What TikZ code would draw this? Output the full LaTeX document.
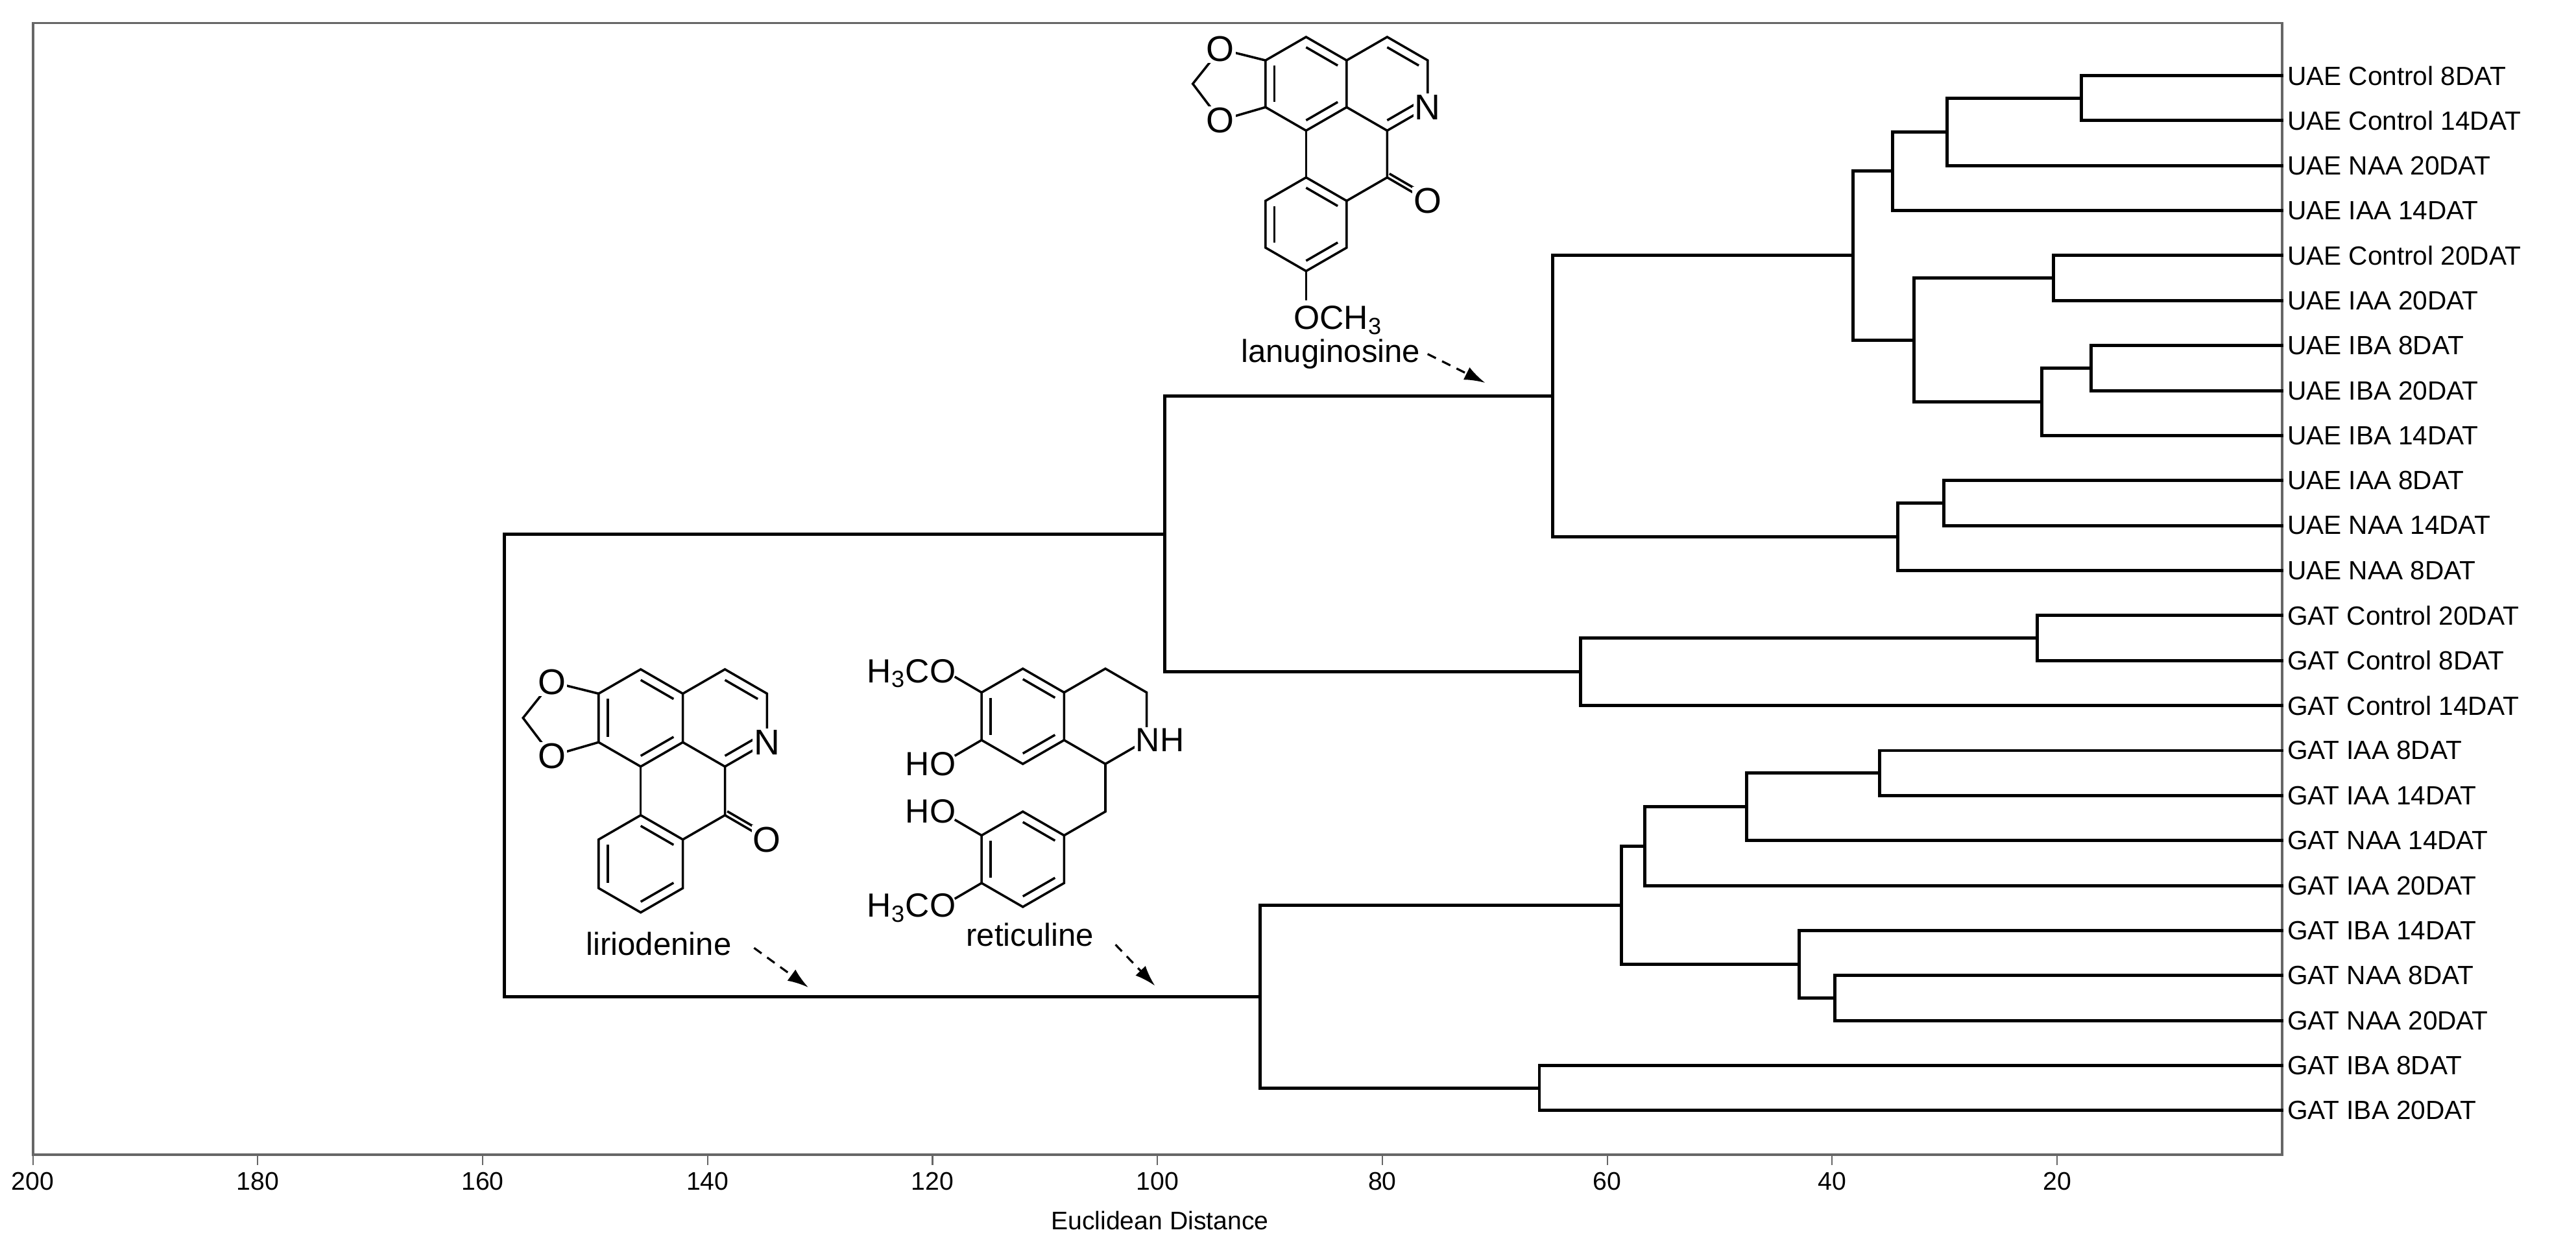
\documentclass[tikz,border=0pt]{standalone}
\usepackage{fontspec}
\setmainfont{Liberation Sans}
\usetikzlibrary{calc,arrows.meta}
\newcommand\dbl[3]{\draw ($(#1)!.22!(#3)$) -- ($(#2)!.22!(#3)$);}
\newcommand\mergeAt[4]{\path let \p1=(#3),\p2=(#4) in coordinate (#1) at ($(#2,0)+(0pt,{0.5*(\y1+\y2)})$);
  \draw[dend] (#3) -| (#1) |- (#4);}
\newcommand\aporph{%
  \draw (0,-1)--(0.866,-0.5)--(0.866,0.5)--(0,1)--(-0.866,0.5)--(-0.866,-0.5)--cycle;
  \draw (0.866,-0.5)--(1.732,-1)--(2.598,-0.5)--(2.598,0.5)--(1.732,1)--(0.866,0.5);
  \draw (0,1)--(0,2); \draw (1.732,1)--(1.732,2)--(0.866,2.5);
  \draw (0,2)--(0.866,2.5)--(0.866,3.5)--(0,4)--(-0.866,3.5)--(-0.866,2.5)--cycle;
  \draw (1.732,2)--(2.42,2.40); \draw (1.78,1.92)--(2.47,2.32);
  \draw (-0.866,-0.5)--(-1.83,-0.74)--(-2.42,0)--(-1.83,0.78)--(-0.866,0.5);
  \dbl{-0.866,-0.5}{-0.866,0.5}{0,0}\dbl{0,-1}{0.866,-0.5}{0,0}\dbl{0.866,0.5}{0,1}{0,0}
  \dbl{1.732,-1}{2.598,-0.5}{1.732,0}\dbl{1.732,1}{2.598,0.5}{1.732,0}
  \dbl{0,2}{0.866,2.5}{0,3}\dbl{-0.866,2.5}{-0.866,3.5}{0,3}\dbl{0.866,3.5}{0,4}{0,3}
}
\begin{document}
\begin{tikzpicture}[x=0.25mm,y=-0.25mm,
  dend/.style={line width=1.4pt,line cap=rect},
  leaf/.style={anchor=west,font=\fontsize{11.4}{13}\selectfont,inner sep=0pt},
  tick/.style={font=\fontsize{11}{13}\selectfont,inner sep=0pt},
  atom/.style={font=\fontsize{15.5}{17}\selectfont,inner sep=0.6pt,fill=white},
  sub/.style={font=\fontsize{14.5}{16}\selectfont,inner sep=0.5pt},
  mlab/.style={font=\fontsize{13.8}{15}\selectfont,inner sep=0pt},
  darr/.style={dashed,line width=0.9pt,dash pattern=on 4pt off 3pt,-{Latex[length=9pt,width=6pt]}}]
\useasboundingbox (0,0) rectangle (1568,762);
% frame and axis
\draw[line width=1.1pt,black!60] (20,14) rectangle (1389,703);
\foreach \d in {200,180,...,20}{
  \draw[line width=0.6pt,black!60] ({1389-6.845*\d},703) -- ({1389-6.845*\d},709);
  \node[tick] (t\d) at ({1389-6.845*\d},719) {\d};}
\node[font=\fontsize{11}{13}\selectfont] (xt) at (706,743) {Euclidean Distance};
% leaves
\foreach \n/\t [count=\i] in {
 1/UAE Control 8DAT,2/UAE Control 14DAT,3/UAE NAA 20DAT,4/UAE IAA 14DAT,
 5/UAE Control 20DAT,6/UAE IAA 20DAT,7/UAE IBA 8DAT,8/UAE IBA 20DAT,9/UAE IBA 14DAT,
 10/UAE IAA 8DAT,11/UAE NAA 14DAT,12/UAE NAA 8DAT,13/GAT Control 20DAT,14/GAT Control 8DAT,
 15/GAT Control 14DAT,16/GAT IAA 8DAT,17/GAT IAA 14DAT,18/GAT NAA 14DAT,19/GAT IAA 20DAT,
 20/GAT IBA 14DAT,21/GAT NAA 8DAT,22/GAT NAA 20DAT,23/GAT IBA 8DAT,24/GAT IBA 20DAT}{
  \coordinate (L\n) at (1389,{46+27.39*(\i-1)});
  \node[leaf] (N\n) at (1392,{46+27.39*(\i-1)}) {\t};}
% dendrogram
\mergeAt{a1}{1267}{L1}{L2}
\mergeAt{a2}{1185}{a1}{L3}
\mergeAt{a3}{1152}{a2}{L4}
\mergeAt{a4}{1250}{L5}{L6}
\mergeAt{a5}{1273}{L7}{L8}
\mergeAt{a6}{1243}{a5}{L9}
\mergeAt{a7}{1165}{a4}{a6}
\mergeAt{a8}{1128}{a3}{a7}
\mergeAt{b1}{1183}{L10}{L11}
\mergeAt{b2}{1155}{b1}{L12}
\mergeAt{c1}{945}{a8}{b2}
\mergeAt{d1}{1240}{L13}{L14}
\mergeAt{d2}{962}{d1}{L15}
\mergeAt{e1}{709}{c1}{d2}
\mergeAt{f1}{1144}{L16}{L17}
\mergeAt{f2}{1063}{f1}{L18}
\mergeAt{f3}{1001}{f2}{L19}
\mergeAt{g1}{1117}{L21}{L22}
\mergeAt{g2}{1095}{L20}{g1}
\mergeAt{h1}{987}{f3}{g2}
\mergeAt{i1}{937}{L23}{L24}
\mergeAt{j1}{767}{h1}{i1}
\mergeAt{root}{307}{e1}{j1}
% lanuginosine
\begin{scope}[shift={(795,51)},x=7.125mm,y=-7.125mm,line width=1pt]
  \aporph
  \draw (0,4)--(0,4.62);
  \node[atom] (lO1) at (-1.83,-0.74) {O};
  \node[atom] (lO2) at (-1.83,0.78) {O};
  \node[atom] (lN) at (2.598,0.5) {N};
  \node[atom] (lO3) at (2.598,2.5) {O};
\end{scope}
\node[sub] (och3) at (814.5,195) {OCH\textsubscript{3}};
\node[mlab] (lan) at (810,215.5) {lanuginosine};
\coordinate (lanT) at (904,233);
\draw[darr] (lan.east) ++(3pt,0pt) coordinate (lanS) -- (lanT);
% liriodenine
\begin{scope}[shift={(390,437)},x=7.4mm,y=-7.4mm,line width=1pt]
  \aporph
  \node[atom] (rO1) at (-1.83,-0.74) {O};
  \node[atom] (rO2) at (-1.83,0.78) {O};
  \node[atom] (rN) at (2.598,0.5) {N};
  \node[atom] (rO3) at (2.598,2.5) {O};
\end{scope}
\node[mlab] (lir) at (401,574.5) {liriodenine};
\coordinate (lirS) at (459,577); \coordinate (lirT) at (492,601);
\draw[darr] (lirS) -- (lirT);
% reticuline
\begin{scope}[shift={(622.6,436)},x=7.25mm,y=-7.25mm,line width=1pt]
  \draw (0,-1)--(0.866,-0.5)--(0.866,0.5)--(0,1)--(-0.866,0.5)--(-0.866,-0.5)--cycle;
  \draw (0.866,-0.5)--(1.732,-1)--(2.598,-0.5)--(2.598,0.5)--(1.732,1)--(0.866,0.5);
  \draw (1.732,1)--(1.732,2)--(0.866,2.5);
  \draw (0,2)--(0.866,2.5)--(0.866,3.5)--(0,4)--(-0.866,3.5)--(-0.866,2.5)--cycle;
  \dbl{-0.866,-0.5}{-0.866,0.5}{0,0}\dbl{0,-1}{0.866,-0.5}{0,0}\dbl{0.866,0.5}{0,1}{0,0}
  \dbl{0,2}{0.866,2.5}{0,3}\dbl{-0.866,2.5}{-0.866,3.5}{0,3}\dbl{0.866,3.5}{0,4}{0,3}
  \draw (-0.866,-0.5)--(-1.43,-0.83);
  \draw (-0.866,0.5)--(-1.43,0.83);
  \draw (-0.866,2.5)--(-1.43,2.17);
  \draw (-0.866,3.5)--(-1.43,3.83);
  \node[atom,font=\fontsize{14.5}{16}\selectfont,anchor=west,xshift=-5.8pt] (tNH) at (2.598,0.5) {NH};
  \node[sub,anchor=east] (tM1) at (-1.36,-0.9) {H\textsubscript{3}CO};
  \node[sub,anchor=east] (tH1) at (-1.36,1.0) {HO};
  \node[sub,anchor=east] (tH2) at (-1.36,2.0) {HO};
  \node[sub,anchor=east] (tM2) at (-1.36,4.02) {H\textsubscript{3}CO};
\end{scope}
\node[mlab] (ret) at (627,569) {reticuline};
\coordinate (retS) at (679,575); \coordinate (retT) at (703,600);
\draw[darr] (retS) -- (retT);
\end{tikzpicture}
\end{document}
